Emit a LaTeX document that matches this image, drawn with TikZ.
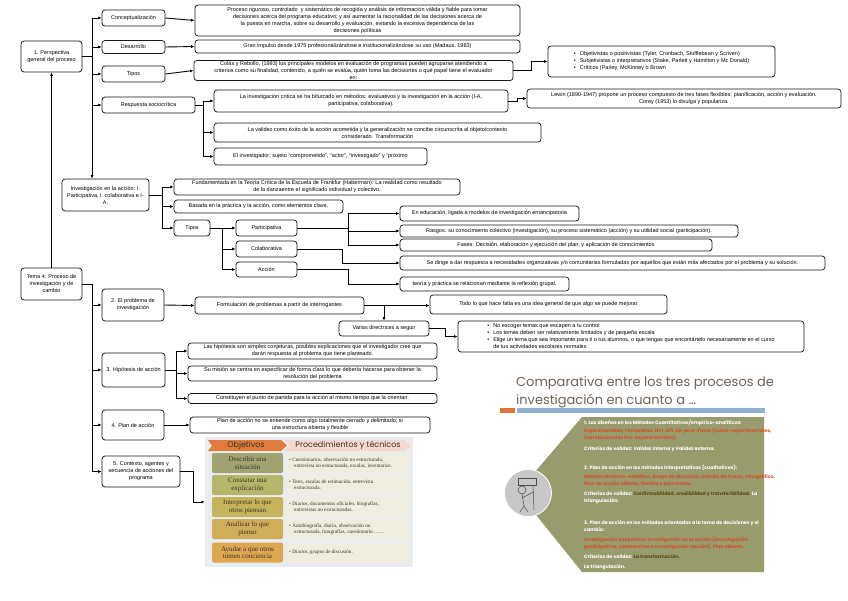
\documentclass[tikz,border=0pt]{standalone}
\usepackage{fontspec}
\setmainfont{Liberation Sans}
\newfontfamily\slidefont{Poppins}
\newfontfamily\tabserif{Liberation Serif}
\usetikzlibrary{arrows.meta,calc}
\newcommand\mapfont{\fontsize{5.5}{7}\selectfont}
\definecolor{tabbg}{HTML}{E9EDF1}
\definecolor{objor}{HTML}{E07B3B}
\definecolor{procpk}{HTML}{F6D8CE}
\definecolor{rowA}{HTML}{A0A270}
\definecolor{rowB}{HTML}{B7B56A}
\definecolor{rowC}{HTML}{C5B45C}
\definecolor{rowD}{HTML}{D0AD58}
\definecolor{rowE}{HTML}{DEA651}
\definecolor{cellR}{HTML}{EEEDE0}
\definecolor{tabtxt}{HTML}{3A3426}
\definecolor{slidegray}{HTML}{6F6259}
\definecolor{slideor}{HTML}{E0733A}
\definecolor{slidebl}{HTML}{8FB0CF}
\definecolor{slidegr}{HTML}{989B6C}
\definecolor{slidered}{HTML}{D4512A}
\definecolor{slidedk}{HTML}{5A4A10}
\begin{document}
\begin{tikzpicture}[x=1pt,y=-1pt,
 box/.style={draw=black!90, line width=0.75pt, rounded corners=3pt, fill=white, align=center, inner sep=1pt, font=\mapfont},
 ln/.style={line width=0.9pt},
 conn/.style={line width=0.9pt, -{Latex[length=3.5pt,width=3pt]}},
 lcell/.style={fill=#1, rounded corners=2pt, minimum width=71, minimum height=20, inner sep=0pt, align=center, font=\tabserif\fontsize{7}{7.4}\selectfont, text=tabtxt},
 rcell/.style={fill=cellR, rounded corners=2pt, minimum width=124, minimum height=20, inner sep=0pt},
 rtext/.style={anchor=west, align=left, inner sep=0pt, font=\tabserif\fontsize{5.2}{5.9}\selectfont, text=tabtxt},
 stext/.style={anchor=west, align=left, inner sep=0pt, font=\slidefont\bfseries\fontsize{4.75}{7}\selectfont, text=white},
]
\useasboundingbox (0,0) rectangle (848,600);
\fill[white] (0,0) rectangle (848,600);

% ---------- left column ----------
\node[box, minimum width=61, minimum height=31] (p1) at (51.5,56.5) {1. Perspectiva\\general del proceso};
\node[box, minimum width=61, minimum height=32] (t4) at (51.5,284) {Tema 4: Proceso de\\investigación y de\\cambio};

% ---------- second column ----------
\node[box, minimum width=63, minimum height=16] (conc) at (133.5,18) {Conceptualización};
\node[box, minimum width=63, minimum height=13] (desa) at (133.5,47) {Desarrollo};
\node[box, minimum width=63, minimum height=16] (tipos1) at (133.5,74) {Tipos};
\node[box, minimum width=93, minimum height=16] (resp) at (148.5,105) {Respuesta sociocrítica};
\node[box, minimum width=87, minimum height=32] (ia) at (105.5,195) {Investigación en la acción: I.\\Participativa, I. colaborativa e I-\\A.};
\node[box, minimum width=62, minimum height=32] (p2) at (133,305) {2. El problema de\\investigación};
\node[box, minimum width=63, minimum height=34] (p3) at (133.5,370) {3. Hipótesis de acción};
\node[box, minimum width=62, minimum height=30] (p4) at (133,425) {4. Plan de acción};
\node[box, minimum width=78, minimum height=31] (p5) at (141,471.5) {5. Contexto, agentes y\\secuencia de acciones del\\programa};

% ---------- perspectiva branch ----------
\node[box, minimum width=325, minimum height=31] (concT) at (357.5,20.5) {Proceso riguroso, controlado \ y sistemático de recogida y análisis de información válida y fiable para tomar\\decisiones acerca del programa educativo; y así aumentar la racionalidad de las decisiones acerca de\\la puesta en marcha, sobre su desarrollo y evaluación, evitando la excesiva dependencia de las\\decisiones políticas};
\node[box, minimum width=325, minimum height=13] (desaT) at (357.5,46.5) {Gran impulso desde 1975 profesionalizándose e institucionalizándose su uso (Madaus, 1983)};
\node[box, minimum width=319, minimum height=19] (tiposT) at (353.5,70.5) {Colás y Rebollo, (1993) los principales modelos en evaluación de programas pueden agruparse atendiendo a\\criterios como su finalidad, contenido, a quién se evalúa, quién toma las decisiones o qué papel tiene el evaluador\\en:};
\node[box, minimum width=227, minimum height=31] (tiposBul) at (661.5,61.5) {\begin{tabular}{@{}l@{\hspace{4pt}}l@{}}\textbullet & Objetivistas o positivistas (Tyler, Cronbach, Stufflebean y Scriven)\\ \textbullet & Subjetivistas o interpretativos (Stake, Parlett y Hamilton y Mc Donald)\\ \textbullet & Críticos (Parley, McKinney o Brown\end{tabular}};
\node[box, minimum width=294, minimum height=22] (crit) at (361,101) {La investigación crítica se ha bifurcado en métodos: evaluativos y la investigación en la acción (I-A,\\participativa, colaborativa).};
\node[box, minimum width=314, minimum height=19] (lewin) at (684,98.5) {Lewin (1890-1947) propone un proceso compuesto de tres fases flexibles: planificación, acción y evaluación.\\Corey (1953) lo divulga y populariza.};
\node[box, minimum width=327, minimum height=19] (valid) at (377.5,132.5) {La validez como éxito de la acción acometida y la generalización se concibe circunscrita al objeto/contexto\\considerado. Transformación};
\node[box, minimum width=213, minimum height=17] (invest) at (320.5,156.5) {El investigador; sujeto “comprometido”, “actor”, “investigado” y “próximo};

% ---------- investigación en la acción ----------
\node[box, minimum width=286, minimum height=16] (fund) at (317,187) {Fundamentada en la Teoría Crítica de la Escuela de Frankfur (Haberman): La realidad como resultado\\de la danzaentre el significado individual y colectivo.};
\node[box, minimum width=169, minimum height=13] (basa) at (258.5,206.5) {Basada en la práctica y la acción, como elementos clave.};
\node[box, minimum width=36, minimum height=16] (tipos2) at (192,228) {Tipos};
\node[box, minimum width=61, minimum height=16] (part) at (266.5,228) {Participativa};
\node[box, minimum width=61, minimum height=16] (cola) at (266.5,249) {Colaborativa};
\node[box, minimum width=61, minimum height=15] (acc) at (266.5,269.5) {Acción};
\node[box, minimum width=179, minimum height=15] (ened) at (489.5,213.5) {En educación, ligada a modelos de investigación emancipatoria};
\node[box, minimum width=338, minimum height=12] (ras) at (569,231) {Rasgos: su conocimiento colectivo (investigación), su proceso sistemático (acción) y su utilidad social (participación).};
\node[box, minimum width=312, minimum height=12] (fases) at (556,245) {Fases: Decisión, elaboración y ejecución del plan, y aplicación de conocimientos};
\node[box, minimum width=425, minimum height=14] (sedir) at (612.5,263) {Se dirige a dar respuesta a necesidades organizativas y/o comunitarias formuladas por aquéllos que están más afectados por el problema y su solución.};
\node[box, minimum width=169, minimum height=14] (teor) at (484.5,284) {teoría y práctica se relacionan mediante la reflexión grupal.};

% ---------- problema ----------
\node[box, minimum width=169, minimum height=17] (form) at (279.5,305.5) {Formulación de problemas a partir de interrogantes};
\node[box, minimum width=237, minimum height=19] (todo) at (548.5,304.5) {Todo lo que hace falta es una idea general de que algo se puede mejorar};
\node[box, minimum width=90, minimum height=15] (varias) at (384,328.5) {Varias directrices a seguir};
\node[box, minimum width=346, minimum height=31] (bul2) at (631,336.5) {\begin{tabular}{@{}l@{\hspace{4pt}}l@{}}\textbullet & No escoger temas que escapen a tu control\\ \textbullet & Los temas deben ser relativamente limitados y de pequeña escala\\ \textbullet & Elige un tema que sea importante para ti o tus alumnos, o que tengas que encontártelo necesariamente en el curso\\ & de tus actividades escolares normales\end{tabular}};

% ---------- hipótesis, plan ----------
\node[box, minimum width=249, minimum height=16] (hyp1) at (312.5,351) {Las hipótesis son simples conjeturas, posibles explicaciones que el investigador cree que\\darán respuesta al problema que tiene planteado.};
\node[box, minimum width=249, minimum height=15] (hyp2) at (312.5,373.5) {Su misión se centra en especificar de forma clara lo que debería hacerse para obtener la\\resolución del problema};
\node[box, minimum width=249, minimum height=10] (hyp3) at (312.5,398.5) {Constituyen el punto de partida para la acción al mismo tiempo que la orientan.};
\node[box, minimum width=240, minimum height=16] (plan) at (310,425) {Plan de acción no se entiende como algo totalmente cerrado y delimitado; si\\una estructura abierta y flexible};

% ---------- table (objetivos) ----------
\node[fill=tabbg, minimum width=208, minimum height=130, inner sep=0pt] (tab) at (309,502) {};
\fill[objor] (208,440) -- (281,440) -- (287,445.5) -- (281,451) -- (208,451) -- (212,445.5) -- cycle;
\fill[procpk] (284,440) -- (405,440) -- (411,445.5) -- (405,451) -- (284,451) -- (290,445.5) -- cycle;
\node[font=\slidefont\fontsize{8}{9}\selectfont, text=tabtxt, inner sep=0pt] (hobj) at (246,445.5) {Objetivos};
\node[font=\slidefont\fontsize{8}{9}\selectfont, text=tabtxt, inner sep=0pt] (hproc) at (348,445.5) {Procedimientos y técnicos};
\node[lcell=rowA] (l1) at (247.5,463) {Describir una\\situación};
\node[lcell=rowB] (l2) at (247.5,485) {Constatar una\\explicación};
\node[lcell=rowC] (l3) at (247.5,507) {Interpretar lo que\\otros piensan};
\node[lcell=rowD] (l4) at (247.5,529) {Analizar lo que\\pienso};
\node[lcell=rowE] (l5) at (247.5,552.5) {Ayudar a que otros\\tomen conciencia};
\node[rcell] (r1) at (348,463) {};
\node[rcell] (r2) at (348,485) {};
\node[rcell] (r3) at (348,507) {};
\node[rcell] (r4) at (348,529) {};
\node[rcell] (r5) at (348,552.5) {};
\node[rtext] (rt1) at (289,463) {\textbullet\ Cuestionarios, observación no estructurada,\\\hspace*{5pt}entrevista no estructurada, escalas, inventarios.};
\node[rtext] (rt2) at (289,485) {\textbullet\ Tests, escalas de estimación, entrevista\\\hspace*{5pt}estructurada.};
\node[rtext] (rt3) at (289,507) {\textbullet\ Diarios, documentos oficiales, biografías,\\\hspace*{5pt}entrevistas no estructuradas.};
\node[rtext] (rt4) at (289,529) {\textbullet\ Autobiografía, diario, observación no\\\hspace*{5pt}estructurada, fotografías, cuestionario ……};
\node[rtext] (rt5) at (289,552.5) {\textbullet\ Diarios, grupos de discusión.};

% ---------- slide ----------
\node[anchor=west, inner sep=0pt, font=\slidefont\fontsize{13}{14}\selectfont, text=slidegray] (st1) at (516,383) {Comparativa entre los tres procesos de};
\node[anchor=west, inner sep=0pt, font=\slidefont\fontsize{13}{14}\selectfont, text=slidegray] (st2) at (516,401) {investigación en cuanto a …};
\fill[slideor] (500,408) rectangle (515,413);
\fill[slidebl] (517,408) rectangle (765,413);
\fill[slidegr] (582,417) -- (764,417) -- (764,572) -- (582,572) -- (528,505) -- (528,480) -- cycle;
\node[circle, fill=black!22, draw=white, line width=0.8pt, minimum size=47, inner sep=0pt] (pic) at (528,493) {};
\draw[black!70, line width=0.5pt] (518,478) rectangle (536,485);
\draw[black!70, line width=0.5pt] (533,485) -- (534,510) (522,490) circle (4) (522,494) -- (524,506) -- (520,512) (524,506) -- (528,512) (522,498) -- (533,492);
\node[stext] (s1) at (584,423) {1. Los diseños en los Métodos Cuantitativos/empírico-analíticos:};
\node[stext, text=slidered] (s2) at (584,434.5) {Experimentales: Factoriales, N=1, ATI. Ex-post-Facto (Cuasi-experimentales,\\Correlacionales Pre-experimentales).};
\node[stext] (s3) at (584,449) {Criterios de validez: Validez interna y Validez externa.};
\node[stext] (s4) at (584,468) {2. Plan de acción en los métodos interpretativos (cualitativos):};
\node[stext, text=slidered] (s5) at (584,481) {Método Histórico-analítico, Grupo de discusión, Estudio de Casos, Etnográfico.\\Plan de acción abierto, flexible y permeable.};
\node[stext] (s6) at (584,498) {Criterios de validez: \textcolor{slidedk}{Confirmabilidad, credibilidad y transferibilidad.} La\\triangulación.};
\node[stext] (s7) at (584,526) {3. Plan de acción en los métodos orientados a la toma de decisiones y el\\cambio:};
\node[stext, text=slidered] (s8) at (584,543.5) {Investigación evaluativa, Investigación en la acción (investigación\\participativa, colaborativa e investigación-acción). Plan abierto.};
\node[stext] (s9) at (584,557) {Criterios de validez: \textcolor{slidedk}{La transformación.}};
\node[stext] (s10) at (584,567) {La triangulación.};

% ---------- connectors ----------
\coordinate (pj) at (92,56.5);
\draw[ln] (p1.east) -- (pj);
\draw[ln] (conc.west -| pj) -- (resp.west -| pj);
\draw[conn] (resp.west -| pj) -- (ia.north -| pj);
\foreach \n in {conc,desa,tipos1,resp} \draw[conn] (\n.west -| pj) -- (\n.west);
\draw[conn] (t4.north) -- (p1.south);
\coordinate (tj) at (92,284);
\draw[ln] (t4.east) -- (tj) -- (p5.west -| tj);
\foreach \n in {p2,p3,p4,p5} \draw[conn] (\n.west -| tj) -- (\n.west);

\draw[conn] (conc.east) -- (concT.west);
\draw[conn] (desa.east) -- (desaT.west);
\draw[conn] (tipos1.east) -- (tiposT.west);
\draw[conn] (tiposT.east) -- ++(18,0) |- (tiposBul.west);
\coordinate (rj) at (203,105);
\draw[ln] (resp.east) -- (rj);
\draw[ln] (crit.west -| rj) -- (invest.west -| rj);
\foreach \n in {crit,valid,invest} \draw[conn] (\n.west -| rj) -- (\n.west);
\draw[conn] (crit.east) -- ++(9,0) |- (lewin.west);

\coordinate (ij) at (162,195);
\draw[ln] (ia.east) -- (ij);
\draw[ln] (fund.west -| ij) -- (tipos2.west -| ij);
\foreach \n in {fund,basa,tipos2} \draw[conn] (\n.west -| ij) -- (\n.west);
\coordinate (kj) at (222,228);
\draw[ln] (tipos2.east) -- (kj) -- (acc.west -| kj);
\foreach \n in {part,cola,acc} \draw[conn] (\n.west -| kj) -- (\n.west);
\coordinate (qj) at (348,228);
\draw[ln] (part.east) -- (qj);
\draw[ln] (ened.west -| qj) -- (fases.west -| qj);
\foreach \n in {ened,ras,fases} \draw[conn] (\n.west -| qj) -- (\n.west);
\coordinate (cj) at (342,249);
\draw[conn] (cola.east) -- (cj) |- (sedir.west);
\coordinate (aj) at (348,269.5);
\draw[conn] (acc.east) -- (aj) |- (teor.west);

\draw[conn] (p2.east) -- (form.west);
\draw[conn] (form.east) -- (todo.west |- form.east);
\draw[conn] (varias.north |- form.east) -- (varias.north);
\draw[conn] (varias.east) -- ++(16,0) |- (bul2.west);
\coordinate (hj) at (176,370);
\draw[ln] (p3.east) -- (hj);
\draw[ln] (hyp1.west -| hj) -- (hyp3.west -| hj);
\foreach \n in {hyp1,hyp2,hyp3} \draw[conn] (\n.west -| hj) -- (\n.west);
\draw[conn] (p4.east) -- (plan.west);
\draw[conn] (p5.east) -- ++(13,0) |- (tab.west);
\end{tikzpicture}
\end{document}
